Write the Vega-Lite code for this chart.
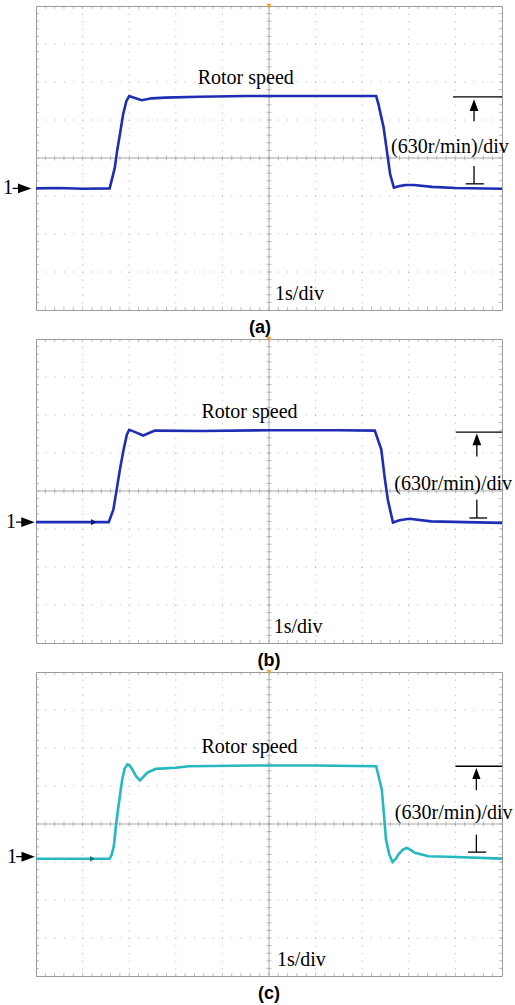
{
  "$schema": "https://vega.github.io/schema/vega-lite/v6.json",
  "background": "white",
  "padding": {"left": 2, "top": 3, "right": 0, "bottom": 0},
  "spacing": -1,
  "config": {
    "view": {"stroke": "#9a9a9a", "strokeWidth": 1},
    "axis": {"disable": true},
    "font": "Liberation Serif"
  },
  "datasets": {
    "one": [{"label": "scale"}],
    "gridT": [{"t": 1}, {"t": 2}, {"t": 3}, {"t": 4}, {"t": 6}, {"t": 7}, {"t": 8}, {"t": 9}],
    "gridV": [{"v": -3}, {"v": -2}, {"v": -1}, {"v": 1}, {"v": 2}, {"v": 3}],
    "minorT": [{"t":0.2},{"t":0.4},{"t":0.6},{"t":0.8},{"t":1},{"t":1.2},{"t":1.4},{"t":1.6},{"t":1.8},{"t":2},{"t":2.2},{"t":2.4},{"t":2.6},{"t":2.8},{"t":3},{"t":3.2},{"t":3.4},{"t":3.6},{"t":3.8},{"t":4},{"t":4.2},{"t":4.4},{"t":4.6},{"t":4.8},{"t":5},{"t":5.2},{"t":5.4},{"t":5.6},{"t":5.8},{"t":6},{"t":6.2},{"t":6.4},{"t":6.6},{"t":6.8},{"t":7},{"t":7.2},{"t":7.4},{"t":7.6},{"t":7.8},{"t":8},{"t":8.2},{"t":8.4},{"t":8.6},{"t":8.8},{"t":9},{"t":9.2},{"t":9.4},{"t":9.6},{"t":9.8}],
    "minorV": [{"v":-3.8},{"v":-3.6},{"v":-3.4},{"v":-3.2},{"v":-3},{"v":-2.8},{"v":-2.6},{"v":-2.4},{"v":-2.2},{"v":-2},{"v":-1.8},{"v":-1.6},{"v":-1.4},{"v":-1.2},{"v":-1},{"v":-0.8},{"v":-0.6},{"v":-0.4},{"v":-0.2},{"v":0},{"v":0.2},{"v":0.4},{"v":0.6},{"v":0.8},{"v":1},{"v":1.2},{"v":1.4},{"v":1.6},{"v":1.8},{"v":2},{"v":2.2},{"v":2.4},{"v":2.6},{"v":2.8},{"v":3},{"v":3.2},{"v":3.4},{"v":3.6},{"v":3.8}],
    "trA": [{"t":0,"div":-0.8},{"t":0.5,"div":-0.79},{"t":1.0,"div":-0.81},{"t":1.58,"div":-0.8},{"t":1.62,"div":-0.61},{"t":1.69,"div":-0.26},{"t":1.74,"div":0.18},{"t":1.8,"div":0.62},{"t":1.87,"div":1.15},{"t":1.94,"div":1.5},{"t":2.0,"div":1.63},{"t":2.09,"div":1.59},{"t":2.27,"div":1.52},{"t":2.48,"div":1.57},{"t":2.77,"div":1.59},{"t":3.5,"div":1.61},{"t":4.5,"div":1.63},{"t":5.5,"div":1.63},{"t":6.5,"div":1.63},{"t":7.3,"div":1.63},{"t":7.35,"div":1.41},{"t":7.46,"div":0.8},{"t":7.53,"div":0.18},{"t":7.6,"div":-0.43},{"t":7.68,"div":-0.78},{"t":7.8,"div":-0.74},{"t":7.93,"div":-0.71},{"t":8.11,"div":-0.71},{"t":8.5,"div":-0.76},{"t":9.0,"div":-0.79},{"t":10,"div":-0.81}],
    "trB": [{"t":0,"div":-0.82},{"t":1.24,"div":-0.82},{"t":1.56,"div":-0.82},{"t":1.66,"div":-0.49},{"t":1.73,"div":0.03},{"t":1.8,"div":0.56},{"t":1.88,"div":1.09},{"t":1.95,"div":1.48},{"t":2.0,"div":1.61},{"t":2.09,"div":1.57},{"t":2.3,"div":1.46},{"t":2.55,"div":1.59},{"t":3.55,"div":1.58},{"t":5,"div":1.6},{"t":6.5,"div":1.6},{"t":7.27,"div":1.59},{"t":7.41,"div":1.09},{"t":7.48,"div":0.38},{"t":7.55,"div":-0.23},{"t":7.66,"div":-0.83},{"t":7.8,"div":-0.77},{"t":8.01,"div":-0.73},{"t":8.48,"div":-0.8},{"t":9.2,"div":-0.82},{"t":10,"div":-0.84}],
    "trC": [{"t":0,"div":-0.915},{"t":1.58,"div":-0.915},{"t":1.62,"div":-0.82},{"t":1.67,"div":-0.58},{"t":1.72,"div":0.0},{"t":1.78,"div":0.56},{"t":1.85,"div":1.17},{"t":1.9,"div":1.45},{"t":1.96,"div":1.57},{"t":2.01,"div":1.54},{"t":2.07,"div":1.43},{"t":2.15,"div":1.25},{"t":2.23,"div":1.15},{"t":2.31,"div":1.25},{"t":2.39,"div":1.35},{"t":2.57,"div":1.45},{"t":3.0,"div":1.48},{"t":3.28,"div":1.52},{"t":4.71,"div":1.54},{"t":6,"div":1.54},{"t":7.3,"div":1.52},{"t":7.42,"div":0.91},{"t":7.47,"div":0.21},{"t":7.51,"div":-0.41},{"t":7.58,"div":-0.8},{"t":7.65,"div":-1.0},{"t":7.72,"div":-0.92},{"t":7.78,"div":-0.8},{"t":7.87,"div":-0.68},{"t":7.95,"div":-0.63},{"t":8.04,"div":-0.68},{"t":8.13,"div":-0.76},{"t":8.42,"div":-0.85},{"t":8.85,"div":-0.86},{"t":10,"div":-0.91}]
  },
  "vconcat": [
    {
      "width": 466, "height": 304,
      "title": {"text": "(a)", "orient": "bottom", "frame": "group", "anchor": "middle", "offset": 8, "dx": -9, "font": "Liberation Sans", "fontSize": 18, "fontWeight": "bold", "color": "#000000"},
      "layer": [
        {"data": {"name": "gridT"}, "mark": {"type": "rule", "color": "#b0b0b0", "strokeDash": [1, 6.6]}, "encoding": {"x": {"field": "t", "type": "quantitative", "scale": {"domain": [0, 10], "nice": false, "zero": false}}}},
        {"data": {"name": "gridV"}, "mark": {"type": "rule", "color": "#b0b0b0", "strokeDash": [1, 8.3]}, "encoding": {"y": {"field": "v", "type": "quantitative", "scale": {"domain": [-4, 4], "nice": false, "zero": false}}}},
        {"data": {"name": "one"}, "mark": {"type": "rule", "color": "#a8a8a8"}, "encoding": {"x": {"datum": 5}}},
        {"data": {"name": "one"}, "mark": {"type": "rule", "color": "#a8a8a8"}, "encoding": {"y": {"datum": 0}}},
        {"data": {"name": "minorT"}, "mark": {"type": "tick", "orient": "vertical", "size": 5, "thickness": 1, "color": "#a0a0a0"}, "encoding": {"x": {"field": "t", "type": "quantitative"}, "y": {"datum": 0}}},
        {"data": {"name": "minorV"}, "mark": {"type": "tick", "orient": "horizontal", "size": 5, "thickness": 1, "color": "#a0a0a0"}, "encoding": {"y": {"field": "v", "type": "quantitative"}, "x": {"datum": 5}}},
        {"data": {"name": "minorT"}, "mark": {"type": "tick", "orient": "vertical", "size": 3, "thickness": 1, "yOffset": 1.5, "color": "#a0a0a0"}, "encoding": {"x": {"field": "t", "type": "quantitative"}, "y": {"datum": 4}}},
        {"data": {"name": "minorT"}, "mark": {"type": "tick", "orient": "vertical", "size": 3, "thickness": 1, "yOffset": -1.5, "color": "#a0a0a0"}, "encoding": {"x": {"field": "t", "type": "quantitative"}, "y": {"datum": -4}}},
        {"data": {"name": "minorV"}, "mark": {"type": "tick", "orient": "horizontal", "size": 3, "thickness": 1, "xOffset": 1.5, "color": "#a0a0a0"}, "encoding": {"y": {"field": "v", "type": "quantitative"}, "x": {"datum": 0}}},
        {"data": {"name": "minorV"}, "mark": {"type": "tick", "orient": "horizontal", "size": 3, "thickness": 1, "xOffset": -1.5, "color": "#a0a0a0"}, "encoding": {"y": {"field": "v", "type": "quantitative"}, "x": {"datum": 10}}},
        {"data": {"name": "trA"}, "mark": {"type": "line", "color": "#1f2db4", "strokeWidth": 2.6}, "encoding": {"x": {"field": "t", "type": "quantitative"}, "y": {"field": "div", "type": "quantitative"}}},
        {"data": {"values": [{"label": "Rotor speed"}]}, "mark": {"type": "text", "align": "left", "baseline": "alphabetic", "fontSize": 20, "font": "Liberation Serif", "color": "#000000"}, "encoding": {"text": {"field": "label"}, "x": {"datum": 3.47}, "y": {"datum": 1.94}}},
        {"data": {"values": [{"label": "(630r/min)/div"}]}, "mark": {"type": "text", "align": "left", "baseline": "alphabetic", "fontSize": 20, "font": "Liberation Serif", "color": "#000000"}, "encoding": {"text": {"field": "label"}, "x": {"datum": 7.62}, "y": {"datum": 0.14}}},
        {"data": {"values": [{"label": "1s/div"}]}, "mark": {"type": "text", "align": "left", "baseline": "alphabetic", "fontSize": 20, "font": "Liberation Serif", "color": "#000000"}, "encoding": {"text": {"field": "label"}, "x": {"datum": 5.13}, "y": {"datum": -3.74}}},
        {"data": {"name": "one"}, "mark": {"type": "rule", "color": "#000000", "strokeWidth": 1.3}, "encoding": {"x": {"datum": 8.95}, "x2": {"datum": 10}, "y": {"datum": 1.61}}},
        {"data": {"name": "one"}, "mark": {"type": "rule", "color": "#000000", "strokeWidth": 1.3}, "encoding": {"x": {"datum": 9.4}, "y": {"datum": 0.97}, "y2": {"datum": 1.3}}},
        {"data": {"name": "one"}, "mark": {"type": "point", "shape": "M0,-1L0.75,1L-0.75,1Z", "size": 137, "filled": true, "opacity": 1, "color": "#000000"}, "encoding": {"x": {"datum": 9.4}, "y": {"datum": 1.39}}},
        {"data": {"name": "one"}, "mark": {"type": "rule", "color": "#000000", "strokeWidth": 1.3}, "encoding": {"x": {"datum": 9.4}, "y": {"datum": -0.21}, "y2": {"datum": -0.68}}},
        {"data": {"name": "one"}, "mark": {"type": "rule", "color": "#000000", "strokeWidth": 1.3}, "encoding": {"x": {"datum": 9.22}, "x2": {"datum": 9.61}, "y": {"datum": -0.68}}},
        {"data": {"values": [{"label": "1"}]}, "mark": {"type": "text", "align": "right", "baseline": "middle", "dx": -23, "fontSize": 20, "font": "Liberation Serif", "color": "#000000"}, "encoding": {"text": {"field": "label"}, "x": {"datum": 0}, "y": {"datum": -0.8}}},
        {"data": {"name": "one"}, "mark": {"type": "point", "shape": "M-1,-0.06L-0.43,-0.06L-0.43,-0.53L1,0L-0.43,0.53L-0.43,0.06L-1,0.06Z", "size": 350, "filled": true, "opacity": 1, "xOffset": -14, "color": "#000000"}, "encoding": {"x": {"datum": 0}, "y": {"datum": -0.8}}},
        {"data": {"name": "one"}, "mark": {"type": "point", "shape": "triangle-down", "size": 25, "filled": true, "opacity": 1, "color": "#f0a030"}, "encoding": {"x": {"datum": 5}, "y": {"datum": 4}}}
      ]
    },
    {
      "width": 466, "height": 304,
      "title": {"text": "(b)", "orient": "bottom", "frame": "group", "anchor": "middle", "offset": 8, "font": "Liberation Sans", "fontSize": 18, "fontWeight": "bold", "color": "#000000"},
      "layer": [
        {"data": {"name": "gridT"}, "mark": {"type": "rule", "color": "#b0b0b0", "strokeDash": [1, 6.6]}, "encoding": {"x": {"field": "t", "type": "quantitative", "scale": {"domain": [0, 10], "nice": false, "zero": false}}}},
        {"data": {"name": "gridV"}, "mark": {"type": "rule", "color": "#b0b0b0", "strokeDash": [1, 8.3]}, "encoding": {"y": {"field": "v", "type": "quantitative", "scale": {"domain": [-4, 4], "nice": false, "zero": false}}}},
        {"data": {"name": "one"}, "mark": {"type": "rule", "color": "#a8a8a8"}, "encoding": {"x": {"datum": 5}}},
        {"data": {"name": "one"}, "mark": {"type": "rule", "color": "#a8a8a8"}, "encoding": {"y": {"datum": 0}}},
        {"data": {"name": "minorT"}, "mark": {"type": "tick", "orient": "vertical", "size": 5, "thickness": 1, "color": "#a0a0a0"}, "encoding": {"x": {"field": "t", "type": "quantitative"}, "y": {"datum": 0}}},
        {"data": {"name": "minorV"}, "mark": {"type": "tick", "orient": "horizontal", "size": 5, "thickness": 1, "color": "#a0a0a0"}, "encoding": {"y": {"field": "v", "type": "quantitative"}, "x": {"datum": 5}}},
        {"data": {"name": "minorT"}, "mark": {"type": "tick", "orient": "vertical", "size": 3, "thickness": 1, "yOffset": 1.5, "color": "#a0a0a0"}, "encoding": {"x": {"field": "t", "type": "quantitative"}, "y": {"datum": 4}}},
        {"data": {"name": "minorT"}, "mark": {"type": "tick", "orient": "vertical", "size": 3, "thickness": 1, "yOffset": -1.5, "color": "#a0a0a0"}, "encoding": {"x": {"field": "t", "type": "quantitative"}, "y": {"datum": -4}}},
        {"data": {"name": "minorV"}, "mark": {"type": "tick", "orient": "horizontal", "size": 3, "thickness": 1, "xOffset": 1.5, "color": "#a0a0a0"}, "encoding": {"y": {"field": "v", "type": "quantitative"}, "x": {"datum": 0}}},
        {"data": {"name": "minorV"}, "mark": {"type": "tick", "orient": "horizontal", "size": 3, "thickness": 1, "xOffset": -1.5, "color": "#a0a0a0"}, "encoding": {"y": {"field": "v", "type": "quantitative"}, "x": {"datum": 10}}},
        {"data": {"name": "trB"}, "mark": {"type": "line", "color": "#1f2db4", "strokeWidth": 2.6}, "encoding": {"x": {"field": "t", "type": "quantitative"}, "y": {"field": "div", "type": "quantitative"}}},
        {"data": {"name": "one"}, "mark": {"type": "point", "shape": "triangle-right", "size": 40, "filled": true, "opacity": 1, "color": "#0d1870"}, "encoding": {"x": {"datum": 1.24}, "y": {"datum": -0.82}}},
        {"data": {"values": [{"label": "Rotor speed"}]}, "mark": {"type": "text", "align": "left", "baseline": "alphabetic", "fontSize": 20, "font": "Liberation Serif", "color": "#000000"}, "encoding": {"text": {"field": "label"}, "x": {"datum": 3.55}, "y": {"datum": 1.93}}},
        {"data": {"values": [{"label": "(630r/min)/div"}]}, "mark": {"type": "text", "align": "left", "baseline": "alphabetic", "fontSize": 20, "font": "Liberation Serif", "color": "#000000"}, "encoding": {"text": {"field": "label"}, "x": {"datum": 7.69}, "y": {"datum": 0.02}}},
        {"data": {"values": [{"label": "1s/div"}]}, "mark": {"type": "text", "align": "left", "baseline": "alphabetic", "fontSize": 20, "font": "Liberation Serif", "color": "#000000"}, "encoding": {"text": {"field": "label"}, "x": {"datum": 5.1}, "y": {"datum": -3.74}}},
        {"data": {"name": "one"}, "mark": {"type": "rule", "color": "#000000", "strokeWidth": 1.3}, "encoding": {"x": {"datum": 9.01}, "x2": {"datum": 10}, "y": {"datum": 1.55}}},
        {"data": {"name": "one"}, "mark": {"type": "rule", "color": "#000000", "strokeWidth": 1.3}, "encoding": {"x": {"datum": 9.46}, "y": {"datum": 0.91}, "y2": {"datum": 1.25}}},
        {"data": {"name": "one"}, "mark": {"type": "point", "shape": "M0,-1L0.75,1L-0.75,1Z", "size": 137, "filled": true, "opacity": 1, "color": "#000000"}, "encoding": {"x": {"datum": 9.46}, "y": {"datum": 1.36}}},
        {"data": {"name": "one"}, "mark": {"type": "rule", "color": "#000000", "strokeWidth": 1.3}, "encoding": {"x": {"datum": 9.46}, "y": {"datum": -0.23}, "y2": {"datum": -0.71}}},
        {"data": {"name": "one"}, "mark": {"type": "rule", "color": "#000000", "strokeWidth": 1.3}, "encoding": {"x": {"datum": 9.3}, "x2": {"datum": 9.68}, "y": {"datum": -0.71}}},
        {"data": {"values": [{"label": "1"}]}, "mark": {"type": "text", "align": "right", "baseline": "middle", "dx": -20, "fontSize": 20, "font": "Liberation Serif", "color": "#000000"}, "encoding": {"text": {"field": "label"}, "x": {"datum": 0}, "y": {"datum": -0.82}}},
        {"data": {"name": "one"}, "mark": {"type": "point", "shape": "M-1,-0.06L-0.43,-0.06L-0.43,-0.53L1,0L-0.43,0.53L-0.43,0.06L-1,0.06Z", "size": 350, "filled": true, "opacity": 1, "xOffset": -10.7, "color": "#000000"}, "encoding": {"x": {"datum": 0}, "y": {"datum": -0.82}}},
        {"data": {"name": "one"}, "mark": {"type": "point", "shape": "triangle-down", "size": 25, "filled": true, "opacity": 1, "color": "#f0a030"}, "encoding": {"x": {"datum": 5}, "y": {"datum": 4}}}
      ]
    },
    {
      "width": 466, "height": 304,
      "title": {"text": "(c)", "orient": "bottom", "frame": "group", "anchor": "middle", "offset": 8, "font": "Liberation Sans", "fontSize": 18, "fontWeight": "bold", "color": "#000000"},
      "layer": [
        {"data": {"name": "gridT"}, "mark": {"type": "rule", "color": "#b0b0b0", "strokeDash": [1, 6.6]}, "encoding": {"x": {"field": "t", "type": "quantitative", "scale": {"domain": [0, 10], "nice": false, "zero": false}}}},
        {"data": {"name": "gridV"}, "mark": {"type": "rule", "color": "#b0b0b0", "strokeDash": [1, 8.3]}, "encoding": {"y": {"field": "v", "type": "quantitative", "scale": {"domain": [-4, 4], "nice": false, "zero": false}}}},
        {"data": {"name": "one"}, "mark": {"type": "rule", "color": "#a8a8a8"}, "encoding": {"x": {"datum": 5}}},
        {"data": {"name": "one"}, "mark": {"type": "rule", "color": "#a8a8a8"}, "encoding": {"y": {"datum": 0}}},
        {"data": {"name": "minorT"}, "mark": {"type": "tick", "orient": "vertical", "size": 5, "thickness": 1, "color": "#a0a0a0"}, "encoding": {"x": {"field": "t", "type": "quantitative"}, "y": {"datum": 0}}},
        {"data": {"name": "minorV"}, "mark": {"type": "tick", "orient": "horizontal", "size": 5, "thickness": 1, "color": "#a0a0a0"}, "encoding": {"y": {"field": "v", "type": "quantitative"}, "x": {"datum": 5}}},
        {"data": {"name": "minorT"}, "mark": {"type": "tick", "orient": "vertical", "size": 3, "thickness": 1, "yOffset": 1.5, "color": "#a0a0a0"}, "encoding": {"x": {"field": "t", "type": "quantitative"}, "y": {"datum": 4}}},
        {"data": {"name": "minorT"}, "mark": {"type": "tick", "orient": "vertical", "size": 3, "thickness": 1, "yOffset": -1.5, "color": "#a0a0a0"}, "encoding": {"x": {"field": "t", "type": "quantitative"}, "y": {"datum": -4}}},
        {"data": {"name": "minorV"}, "mark": {"type": "tick", "orient": "horizontal", "size": 3, "thickness": 1, "xOffset": 1.5, "color": "#a0a0a0"}, "encoding": {"y": {"field": "v", "type": "quantitative"}, "x": {"datum": 0}}},
        {"data": {"name": "minorV"}, "mark": {"type": "tick", "orient": "horizontal", "size": 3, "thickness": 1, "xOffset": -1.5, "color": "#a0a0a0"}, "encoding": {"y": {"field": "v", "type": "quantitative"}, "x": {"datum": 10}}},
        {"data": {"name": "trC"}, "mark": {"type": "line", "color": "#26b8c0", "strokeWidth": 2.6}, "encoding": {"x": {"field": "t", "type": "quantitative"}, "y": {"field": "div", "type": "quantitative"}}},
        {"data": {"name": "one"}, "mark": {"type": "point", "shape": "triangle-right", "size": 30, "filled": true, "opacity": 1, "color": "#127070"}, "encoding": {"x": {"datum": 1.21}, "y": {"datum": -0.915}}},
        {"data": {"values": [{"label": "Rotor speed"}]}, "mark": {"type": "text", "align": "left", "baseline": "alphabetic", "fontSize": 20, "font": "Liberation Serif", "color": "#000000"}, "encoding": {"text": {"field": "label"}, "x": {"datum": 3.55}, "y": {"datum": 1.86}}},
        {"data": {"values": [{"label": "(630r/min)/div"}]}, "mark": {"type": "text", "align": "left", "baseline": "alphabetic", "fontSize": 20, "font": "Liberation Serif", "color": "#000000"}, "encoding": {"text": {"field": "label"}, "x": {"datum": 7.7}, "y": {"datum": 0.12}}},
        {"data": {"values": [{"label": "1s/div"}]}, "mark": {"type": "text", "align": "left", "baseline": "alphabetic", "fontSize": 20, "font": "Liberation Serif", "color": "#000000"}, "encoding": {"text": {"field": "label"}, "x": {"datum": 5.17}, "y": {"datum": -3.74}}},
        {"data": {"name": "one"}, "mark": {"type": "rule", "color": "#000000", "strokeWidth": 1.3}, "encoding": {"x": {"datum": 9.0}, "x2": {"datum": 10}, "y": {"datum": 1.52}}},
        {"data": {"name": "one"}, "mark": {"type": "rule", "color": "#000000", "strokeWidth": 1.3}, "encoding": {"x": {"datum": 9.45}, "y": {"datum": 0.89}, "y2": {"datum": 1.22}}},
        {"data": {"name": "one"}, "mark": {"type": "point", "shape": "M0,-1L0.75,1L-0.75,1Z", "size": 121, "filled": true, "opacity": 1, "color": "#000000"}, "encoding": {"x": {"datum": 9.45}, "y": {"datum": 1.33}}},
        {"data": {"name": "one"}, "mark": {"type": "rule", "color": "#000000", "strokeWidth": 1.3}, "encoding": {"x": {"datum": 9.45}, "y": {"datum": -0.28}, "y2": {"datum": -0.74}}},
        {"data": {"name": "one"}, "mark": {"type": "rule", "color": "#000000", "strokeWidth": 1.3}, "encoding": {"x": {"datum": 9.27}, "x2": {"datum": 9.66}, "y": {"datum": -0.74}}},
        {"data": {"values": [{"label": "1"}]}, "mark": {"type": "text", "align": "right", "baseline": "middle", "dx": -19, "fontSize": 20, "font": "Liberation Serif", "color": "#000000"}, "encoding": {"text": {"field": "label"}, "x": {"datum": 0}, "y": {"datum": -0.86}}},
        {"data": {"name": "one"}, "mark": {"type": "point", "shape": "M-1,-0.06L-0.43,-0.06L-0.43,-0.53L1,0L-0.43,0.53L-0.43,0.06L-1,0.06Z", "size": 350, "filled": true, "opacity": 1, "xOffset": -10.5, "color": "#000000"}, "encoding": {"x": {"datum": 0}, "y": {"datum": -0.86}}},
        {"data": {"name": "one"}, "mark": {"type": "point", "shape": "triangle-down", "size": 25, "filled": true, "opacity": 1, "color": "#f0a030"}, "encoding": {"x": {"datum": 5}, "y": {"datum": 4}}}
      ]
    }
  ]
}
